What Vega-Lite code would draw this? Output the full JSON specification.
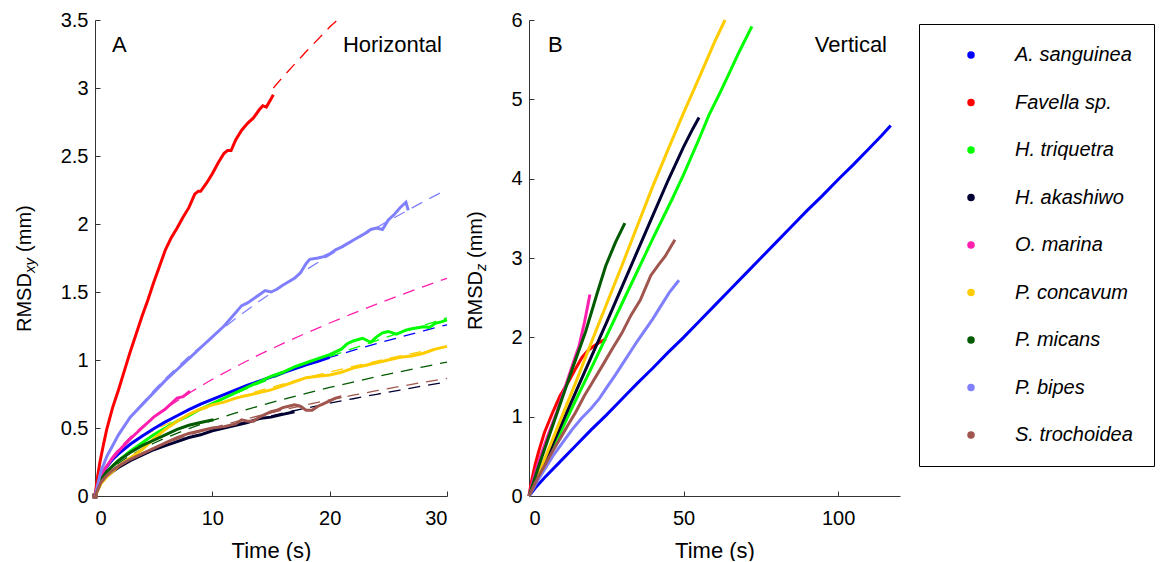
{
  "$schema": "https://vega.github.io/schema/vega-lite/v6.json",
  "background": "white",
  "padding": {"left": 14, "top": 10, "right": 0, "bottom": 0},
  "config": {
    "font": "Liberation Sans",
    "view": {"stroke": null},
    "axis": {
      "grid": false,
      "domainColor": "#333333",
      "domainWidth": 1,
      "tickColor": "#333333",
      "tickSize": -5,
      "labelFont": "Liberation Sans",
      "labelFontSize": 20,
      "labelColor": "black",
      "titleFont": "Liberation Sans",
      "titleFontSize": 22,
      "titleFontWeight": "normal",
      "titleColor": "black"
    },
    "legend": {
      "labelFont": "Liberation Sans",
      "labelFontSize": 20,
      "labelFontStyle": "italic",
      "labelColor": "black"
    }
  },
  "datasets": {
    "origin": [
      {"sp": "A. sanguinea", "t": 0, "r": 0}, {"sp": "Favella sp.", "t": 0, "r": 0}, {"sp": "H. triquetra", "t": 0, "r": 0}, {"sp": "H. akashiwo", "t": 0, "r": 0}, {"sp": "O. marina", "t": 0, "r": 0}, {"sp": "P. concavum", "t": 0, "r": 0}, {"sp": "P. micans", "t": 0, "r": 0}, {"sp": "P. bipes", "t": 0, "r": 0}, {"sp": "S. trochoidea", "t": 0, "r": 0}
    ],
    "h": [
      {"sp": "A. sanguinea", "t": 0, "r": 0}, {"sp": "A. sanguinea", "t": 0.5, "r": 0.15}, {"sp": "A. sanguinea", "t": 1, "r": 0.215}, {"sp": "A. sanguinea", "t": 1.5, "r": 0.27}, {"sp": "A. sanguinea", "t": 2, "r": 0.31}, {"sp": "A. sanguinea", "t": 3, "r": 0.38}, {"sp": "A. sanguinea", "t": 4, "r": 0.44}, {"sp": "A. sanguinea", "t": 5, "r": 0.495}, {"sp": "A. sanguinea", "t": 6, "r": 0.545}, {"sp": "A. sanguinea", "t": 7, "r": 0.59}, {"sp": "A. sanguinea", "t": 8, "r": 0.635}, {"sp": "A. sanguinea", "t": 9, "r": 0.675}, {"sp": "A. sanguinea", "t": 10, "r": 0.71}, {"sp": "A. sanguinea", "t": 11, "r": 0.745}, {"sp": "A. sanguinea", "t": 12, "r": 0.78}, {"sp": "A. sanguinea", "t": 13, "r": 0.815}, {"sp": "A. sanguinea", "t": 14, "r": 0.845}, {"sp": "A. sanguinea", "t": 15, "r": 0.875}, {"sp": "A. sanguinea", "t": 16, "r": 0.905}, {"sp": "A. sanguinea", "t": 17, "r": 0.935}, {"sp": "A. sanguinea", "t": 18, "r": 0.965}, {"sp": "A. sanguinea", "t": 19, "r": 0.99}, {"sp": "A. sanguinea", "t": 20, "r": 1.02},
      {"sp": "Favella sp.", "t": 0, "r": 0}, {"sp": "Favella sp.", "t": 0.2, "r": 0.13}, {"sp": "Favella sp.", "t": 0.4, "r": 0.24}, {"sp": "Favella sp.", "t": 0.7, "r": 0.37}, {"sp": "Favella sp.", "t": 1, "r": 0.49}, {"sp": "Favella sp.", "t": 1.5, "r": 0.65}, {"sp": "Favella sp.", "t": 2, "r": 0.78}, {"sp": "Favella sp.", "t": 2.5, "r": 0.92}, {"sp": "Favella sp.", "t": 3, "r": 1.06}, {"sp": "Favella sp.", "t": 3.5, "r": 1.19}, {"sp": "Favella sp.", "t": 4, "r": 1.32}, {"sp": "Favella sp.", "t": 4.5, "r": 1.44}, {"sp": "Favella sp.", "t": 5, "r": 1.57}, {"sp": "Favella sp.", "t": 5.5, "r": 1.69}, {"sp": "Favella sp.", "t": 6, "r": 1.81}, {"sp": "Favella sp.", "t": 6.5, "r": 1.9}, {"sp": "Favella sp.", "t": 7, "r": 1.97}, {"sp": "Favella sp.", "t": 7.5, "r": 2.05}, {"sp": "Favella sp.", "t": 8, "r": 2.12}, {"sp": "Favella sp.", "t": 8.5, "r": 2.22}, {"sp": "Favella sp.", "t": 8.8, "r": 2.24}, {"sp": "Favella sp.", "t": 9, "r": 2.24}, {"sp": "Favella sp.", "t": 9.5, "r": 2.3}, {"sp": "Favella sp.", "t": 10, "r": 2.37}, {"sp": "Favella sp.", "t": 10.5, "r": 2.45}, {"sp": "Favella sp.", "t": 11, "r": 2.52}, {"sp": "Favella sp.", "t": 11.3, "r": 2.54}, {"sp": "Favella sp.", "t": 11.6, "r": 2.54}, {"sp": "Favella sp.", "t": 12, "r": 2.62}, {"sp": "Favella sp.", "t": 12.5, "r": 2.69}, {"sp": "Favella sp.", "t": 13, "r": 2.74}, {"sp": "Favella sp.", "t": 13.5, "r": 2.78}, {"sp": "Favella sp.", "t": 14, "r": 2.84}, {"sp": "Favella sp.", "t": 14.3, "r": 2.87}, {"sp": "Favella sp.", "t": 14.6, "r": 2.86}, {"sp": "Favella sp.", "t": 15, "r": 2.92}, {"sp": "Favella sp.", "t": 15.2, "r": 2.95},
      {"sp": "H. triquetra", "t": 0, "r": 0}, {"sp": "H. triquetra", "t": 0.5, "r": 0.11}, {"sp": "H. triquetra", "t": 1, "r": 0.17}, {"sp": "H. triquetra", "t": 1.5, "r": 0.22}, {"sp": "H. triquetra", "t": 2, "r": 0.26}, {"sp": "H. triquetra", "t": 3, "r": 0.33}, {"sp": "H. triquetra", "t": 4, "r": 0.39}, {"sp": "H. triquetra", "t": 5, "r": 0.45}, {"sp": "H. triquetra", "t": 6, "r": 0.5}, {"sp": "H. triquetra", "t": 7, "r": 0.55}, {"sp": "H. triquetra", "t": 8, "r": 0.59}, {"sp": "H. triquetra", "t": 9, "r": 0.64}, {"sp": "H. triquetra", "t": 10, "r": 0.68}, {"sp": "H. triquetra", "t": 11, "r": 0.72}, {"sp": "H. triquetra", "t": 12, "r": 0.76}, {"sp": "H. triquetra", "t": 13, "r": 0.8}, {"sp": "H. triquetra", "t": 14, "r": 0.84}, {"sp": "H. triquetra", "t": 15, "r": 0.88}, {"sp": "H. triquetra", "t": 16, "r": 0.91}, {"sp": "H. triquetra", "t": 17, "r": 0.95}, {"sp": "H. triquetra", "t": 18, "r": 0.98}, {"sp": "H. triquetra", "t": 19, "r": 1.01}, {"sp": "H. triquetra", "t": 20, "r": 1.04}, {"sp": "H. triquetra", "t": 21, "r": 1.08}, {"sp": "H. triquetra", "t": 21.5, "r": 1.12}, {"sp": "H. triquetra", "t": 22, "r": 1.14}, {"sp": "H. triquetra", "t": 22.8, "r": 1.16}, {"sp": "H. triquetra", "t": 23.5, "r": 1.13}, {"sp": "H. triquetra", "t": 24, "r": 1.17}, {"sp": "H. triquetra", "t": 24.5, "r": 1.2}, {"sp": "H. triquetra", "t": 25, "r": 1.21}, {"sp": "H. triquetra", "t": 25.7, "r": 1.19}, {"sp": "H. triquetra", "t": 26.5, "r": 1.22}, {"sp": "H. triquetra", "t": 27, "r": 1.23}, {"sp": "H. triquetra", "t": 28, "r": 1.245}, {"sp": "H. triquetra", "t": 28.5, "r": 1.24}, {"sp": "H. triquetra", "t": 29, "r": 1.27}, {"sp": "H. triquetra", "t": 29.5, "r": 1.28}, {"sp": "H. triquetra", "t": 30, "r": 1.295},
      {"sp": "H. akashiwo", "t": 0, "r": 0}, {"sp": "H. akashiwo", "t": 0.5, "r": 0.1}, {"sp": "H. akashiwo", "t": 1, "r": 0.145}, {"sp": "H. akashiwo", "t": 1.5, "r": 0.18}, {"sp": "H. akashiwo", "t": 2, "r": 0.21}, {"sp": "H. akashiwo", "t": 3, "r": 0.26}, {"sp": "H. akashiwo", "t": 4, "r": 0.3}, {"sp": "H. akashiwo", "t": 5, "r": 0.34}, {"sp": "H. akashiwo", "t": 6, "r": 0.37}, {"sp": "H. akashiwo", "t": 7, "r": 0.4}, {"sp": "H. akashiwo", "t": 8, "r": 0.43}, {"sp": "H. akashiwo", "t": 9, "r": 0.45}, {"sp": "H. akashiwo", "t": 10, "r": 0.48}, {"sp": "H. akashiwo", "t": 11, "r": 0.5}, {"sp": "H. akashiwo", "t": 12, "r": 0.52}, {"sp": "H. akashiwo", "t": 13, "r": 0.54}, {"sp": "H. akashiwo", "t": 14, "r": 0.57}, {"sp": "H. akashiwo", "t": 15, "r": 0.58}, {"sp": "H. akashiwo", "t": 16, "r": 0.6}, {"sp": "H. akashiwo", "t": 17, "r": 0.62},
      {"sp": "O. marina", "t": 0, "r": 0}, {"sp": "O. marina", "t": 0.5, "r": 0.15}, {"sp": "O. marina", "t": 1, "r": 0.22}, {"sp": "O. marina", "t": 1.5, "r": 0.28}, {"sp": "O. marina", "t": 2, "r": 0.33}, {"sp": "O. marina", "t": 3, "r": 0.42}, {"sp": "O. marina", "t": 4, "r": 0.5}, {"sp": "O. marina", "t": 5, "r": 0.58}, {"sp": "O. marina", "t": 5.5, "r": 0.61}, {"sp": "O. marina", "t": 6, "r": 0.64}, {"sp": "O. marina", "t": 6.5, "r": 0.68}, {"sp": "O. marina", "t": 7, "r": 0.72}, {"sp": "O. marina", "t": 7.5, "r": 0.73}, {"sp": "O. marina", "t": 8.1, "r": 0.77},
      {"sp": "P. concavum", "t": 0, "r": 0}, {"sp": "P. concavum", "t": 0.5, "r": 0.09}, {"sp": "P. concavum", "t": 1, "r": 0.14}, {"sp": "P. concavum", "t": 1.5, "r": 0.18}, {"sp": "P. concavum", "t": 2, "r": 0.22}, {"sp": "P. concavum", "t": 3, "r": 0.28}, {"sp": "P. concavum", "t": 4, "r": 0.34}, {"sp": "P. concavum", "t": 5, "r": 0.42}, {"sp": "P. concavum", "t": 6, "r": 0.49}, {"sp": "P. concavum", "t": 7, "r": 0.55}, {"sp": "P. concavum", "t": 8, "r": 0.6}, {"sp": "P. concavum", "t": 9, "r": 0.64}, {"sp": "P. concavum", "t": 10, "r": 0.67}, {"sp": "P. concavum", "t": 11, "r": 0.69}, {"sp": "P. concavum", "t": 12, "r": 0.72}, {"sp": "P. concavum", "t": 13, "r": 0.74}, {"sp": "P. concavum", "t": 14, "r": 0.76}, {"sp": "P. concavum", "t": 15, "r": 0.78}, {"sp": "P. concavum", "t": 16, "r": 0.81}, {"sp": "P. concavum", "t": 17, "r": 0.84}, {"sp": "P. concavum", "t": 18, "r": 0.87}, {"sp": "P. concavum", "t": 19, "r": 0.88}, {"sp": "P. concavum", "t": 20, "r": 0.89}, {"sp": "P. concavum", "t": 21, "r": 0.91}, {"sp": "P. concavum", "t": 22, "r": 0.94}, {"sp": "P. concavum", "t": 23, "r": 0.96}, {"sp": "P. concavum", "t": 24, "r": 0.98}, {"sp": "P. concavum", "t": 25, "r": 1.0}, {"sp": "P. concavum", "t": 26, "r": 1.02}, {"sp": "P. concavum", "t": 27, "r": 1.03}, {"sp": "P. concavum", "t": 28, "r": 1.05}, {"sp": "P. concavum", "t": 29, "r": 1.08}, {"sp": "P. concavum", "t": 30, "r": 1.1},
      {"sp": "P. micans", "t": 0, "r": 0}, {"sp": "P. micans", "t": 0.5, "r": 0.12}, {"sp": "P. micans", "t": 1, "r": 0.18}, {"sp": "P. micans", "t": 1.5, "r": 0.22}, {"sp": "P. micans", "t": 2, "r": 0.26}, {"sp": "P. micans", "t": 3, "r": 0.32}, {"sp": "P. micans", "t": 4, "r": 0.37}, {"sp": "P. micans", "t": 5, "r": 0.41}, {"sp": "P. micans", "t": 6, "r": 0.45}, {"sp": "P. micans", "t": 7, "r": 0.49}, {"sp": "P. micans", "t": 8, "r": 0.52}, {"sp": "P. micans", "t": 9, "r": 0.54}, {"sp": "P. micans", "t": 9.5, "r": 0.55}, {"sp": "P. micans", "t": 10.1, "r": 0.56},
      {"sp": "P. bipes", "t": 0, "r": 0}, {"sp": "P. bipes", "t": 0.5, "r": 0.18}, {"sp": "P. bipes", "t": 1, "r": 0.29}, {"sp": "P. bipes", "t": 1.5, "r": 0.37}, {"sp": "P. bipes", "t": 2, "r": 0.45}, {"sp": "P. bipes", "t": 3, "r": 0.58}, {"sp": "P. bipes", "t": 4, "r": 0.67}, {"sp": "P. bipes", "t": 5, "r": 0.76}, {"sp": "P. bipes", "t": 6, "r": 0.85}, {"sp": "P. bipes", "t": 7, "r": 0.93}, {"sp": "P. bipes", "t": 8, "r": 1.01}, {"sp": "P. bipes", "t": 9, "r": 1.09}, {"sp": "P. bipes", "t": 10, "r": 1.17}, {"sp": "P. bipes", "t": 11, "r": 1.25}, {"sp": "P. bipes", "t": 12, "r": 1.35}, {"sp": "P. bipes", "t": 12.5, "r": 1.4}, {"sp": "P. bipes", "t": 13, "r": 1.42}, {"sp": "P. bipes", "t": 14, "r": 1.48}, {"sp": "P. bipes", "t": 14.5, "r": 1.51}, {"sp": "P. bipes", "t": 15, "r": 1.5}, {"sp": "P. bipes", "t": 15.5, "r": 1.52}, {"sp": "P. bipes", "t": 16, "r": 1.55}, {"sp": "P. bipes", "t": 17, "r": 1.6}, {"sp": "P. bipes", "t": 17.5, "r": 1.64}, {"sp": "P. bipes", "t": 18, "r": 1.71}, {"sp": "P. bipes", "t": 18.3, "r": 1.74}, {"sp": "P. bipes", "t": 19, "r": 1.75}, {"sp": "P. bipes", "t": 19.5, "r": 1.76}, {"sp": "P. bipes", "t": 20, "r": 1.78}, {"sp": "P. bipes", "t": 20.5, "r": 1.81}, {"sp": "P. bipes", "t": 21, "r": 1.83}, {"sp": "P. bipes", "t": 22, "r": 1.88}, {"sp": "P. bipes", "t": 23, "r": 1.93}, {"sp": "P. bipes", "t": 23.5, "r": 1.96}, {"sp": "P. bipes", "t": 24, "r": 1.97}, {"sp": "P. bipes", "t": 24.5, "r": 1.96}, {"sp": "P. bipes", "t": 25, "r": 2.03}, {"sp": "P. bipes", "t": 25.5, "r": 2.07}, {"sp": "P. bipes", "t": 26, "r": 2.12}, {"sp": "P. bipes", "t": 26.5, "r": 2.16}, {"sp": "P. bipes", "t": 26.7, "r": 2.1},
      {"sp": "S. trochoidea", "t": 0, "r": 0}, {"sp": "S. trochoidea", "t": 0.5, "r": 0.1}, {"sp": "S. trochoidea", "t": 1, "r": 0.15}, {"sp": "S. trochoidea", "t": 1.5, "r": 0.19}, {"sp": "S. trochoidea", "t": 2, "r": 0.22}, {"sp": "S. trochoidea", "t": 3, "r": 0.27}, {"sp": "S. trochoidea", "t": 4, "r": 0.31}, {"sp": "S. trochoidea", "t": 5, "r": 0.35}, {"sp": "S. trochoidea", "t": 6, "r": 0.39}, {"sp": "S. trochoidea", "t": 7, "r": 0.43}, {"sp": "S. trochoidea", "t": 8, "r": 0.46}, {"sp": "S. trochoidea", "t": 9, "r": 0.48}, {"sp": "S. trochoidea", "t": 10, "r": 0.5}, {"sp": "S. trochoidea", "t": 11, "r": 0.51}, {"sp": "S. trochoidea", "t": 12, "r": 0.53}, {"sp": "S. trochoidea", "t": 12.5, "r": 0.56}, {"sp": "S. trochoidea", "t": 13, "r": 0.55}, {"sp": "S. trochoidea", "t": 13.5, "r": 0.55}, {"sp": "S. trochoidea", "t": 14, "r": 0.58}, {"sp": "S. trochoidea", "t": 14.5, "r": 0.6}, {"sp": "S. trochoidea", "t": 15, "r": 0.62}, {"sp": "S. trochoidea", "t": 15.5, "r": 0.63}, {"sp": "S. trochoidea", "t": 16, "r": 0.65}, {"sp": "S. trochoidea", "t": 16.5, "r": 0.66}, {"sp": "S. trochoidea", "t": 17, "r": 0.67}, {"sp": "S. trochoidea", "t": 17.5, "r": 0.66}, {"sp": "S. trochoidea", "t": 18, "r": 0.63}, {"sp": "S. trochoidea", "t": 18.5, "r": 0.63}, {"sp": "S. trochoidea", "t": 19, "r": 0.66}, {"sp": "S. trochoidea", "t": 19.5, "r": 0.68}, {"sp": "S. trochoidea", "t": 20, "r": 0.7}, {"sp": "S. trochoidea", "t": 20.5, "r": 0.72}, {"sp": "S. trochoidea", "t": 21, "r": 0.73}
    ],
    "hfit": [
      {"sp": "A. sanguinea", "t": 0, "r": 0}, {"sp": "A. sanguinea", "t": 0.25, "r": 0.104}, {"sp": "A. sanguinea", "t": 0.5, "r": 0.15}, {"sp": "A. sanguinea", "t": 1, "r": 0.215}, {"sp": "A. sanguinea", "t": 1.5, "r": 0.265}, {"sp": "A. sanguinea", "t": 2, "r": 0.308}, {"sp": "A. sanguinea", "t": 3, "r": 0.38}, {"sp": "A. sanguinea", "t": 4, "r": 0.441}, {"sp": "A. sanguinea", "t": 5, "r": 0.496}, {"sp": "A. sanguinea", "t": 6, "r": 0.545}, {"sp": "A. sanguinea", "t": 8, "r": 0.633}, {"sp": "A. sanguinea", "t": 10, "r": 0.711}, {"sp": "A. sanguinea", "t": 12, "r": 0.781}, {"sp": "A. sanguinea", "t": 14, "r": 0.846}, {"sp": "A. sanguinea", "t": 16, "r": 0.907}, {"sp": "A. sanguinea", "t": 18, "r": 0.965}, {"sp": "A. sanguinea", "t": 20, "r": 1.019}, {"sp": "A. sanguinea", "t": 22, "r": 1.071}, {"sp": "A. sanguinea", "t": 24, "r": 1.121}, {"sp": "A. sanguinea", "t": 26, "r": 1.168}, {"sp": "A. sanguinea", "t": 28, "r": 1.215}, {"sp": "A. sanguinea", "t": 30, "r": 1.259},
      {"sp": "Favella sp.", "t": 15.2, "r": 3.0}, {"sp": "Favella sp.", "t": 16, "r": 3.08}, {"sp": "Favella sp.", "t": 18, "r": 3.268}, {"sp": "Favella sp.", "t": 20, "r": 3.448}, {"sp": "Favella sp.", "t": 20.65, "r": 3.5},
      {"sp": "H. triquetra", "t": 0, "r": 0}, {"sp": "H. triquetra", "t": 0.25, "r": 0.074}, {"sp": "H. triquetra", "t": 0.5, "r": 0.112}, {"sp": "H. triquetra", "t": 1, "r": 0.17}, {"sp": "H. triquetra", "t": 1.5, "r": 0.217}, {"sp": "H. triquetra", "t": 2, "r": 0.258}, {"sp": "H. triquetra", "t": 3, "r": 0.329}, {"sp": "H. triquetra", "t": 4, "r": 0.39}, {"sp": "H. triquetra", "t": 5, "r": 0.447}, {"sp": "H. triquetra", "t": 6, "r": 0.498}, {"sp": "H. triquetra", "t": 8, "r": 0.592}, {"sp": "H. triquetra", "t": 10, "r": 0.677}, {"sp": "H. triquetra", "t": 12, "r": 0.755}, {"sp": "H. triquetra", "t": 14, "r": 0.828}, {"sp": "H. triquetra", "t": 16, "r": 0.897}, {"sp": "H. triquetra", "t": 18, "r": 0.963}, {"sp": "H. triquetra", "t": 20, "r": 1.026}, {"sp": "H. triquetra", "t": 22, "r": 1.085}, {"sp": "H. triquetra", "t": 24, "r": 1.143}, {"sp": "H. triquetra", "t": 26, "r": 1.2}, {"sp": "H. triquetra", "t": 28, "r": 1.255}, {"sp": "H. triquetra", "t": 30, "r": 1.309},
      {"sp": "H. akashiwo", "t": 0, "r": 0}, {"sp": "H. akashiwo", "t": 0.25, "r": 0.073}, {"sp": "H. akashiwo", "t": 0.5, "r": 0.104}, {"sp": "H. akashiwo", "t": 1, "r": 0.148}, {"sp": "H. akashiwo", "t": 1.5, "r": 0.182}, {"sp": "H. akashiwo", "t": 2, "r": 0.211}, {"sp": "H. akashiwo", "t": 3, "r": 0.259}, {"sp": "H. akashiwo", "t": 4, "r": 0.3}, {"sp": "H. akashiwo", "t": 5, "r": 0.336}, {"sp": "H. akashiwo", "t": 6, "r": 0.369}, {"sp": "H. akashiwo", "t": 8, "r": 0.427}, {"sp": "H. akashiwo", "t": 10, "r": 0.479}, {"sp": "H. akashiwo", "t": 12, "r": 0.526}, {"sp": "H. akashiwo", "t": 14, "r": 0.568}, {"sp": "H. akashiwo", "t": 16, "r": 0.609}, {"sp": "H. akashiwo", "t": 18, "r": 0.646}, {"sp": "H. akashiwo", "t": 20, "r": 0.682}, {"sp": "H. akashiwo", "t": 22, "r": 0.715}, {"sp": "H. akashiwo", "t": 24, "r": 0.748}, {"sp": "H. akashiwo", "t": 26, "r": 0.779}, {"sp": "H. akashiwo", "t": 28, "r": 0.81}, {"sp": "H. akashiwo", "t": 30, "r": 0.838},
      {"sp": "O. marina", "t": 0, "r": 0}, {"sp": "O. marina", "t": 0.25, "r": 0.106}, {"sp": "O. marina", "t": 0.5, "r": 0.157}, {"sp": "O. marina", "t": 1, "r": 0.232}, {"sp": "O. marina", "t": 1.5, "r": 0.292}, {"sp": "O. marina", "t": 2, "r": 0.344}, {"sp": "O. marina", "t": 3, "r": 0.433}, {"sp": "O. marina", "t": 4, "r": 0.51}, {"sp": "O. marina", "t": 5, "r": 0.579}, {"sp": "O. marina", "t": 6, "r": 0.642}, {"sp": "O. marina", "t": 8, "r": 0.756}, {"sp": "O. marina", "t": 10, "r": 0.858}, {"sp": "O. marina", "t": 12, "r": 0.951}, {"sp": "O. marina", "t": 14, "r": 1.039}, {"sp": "O. marina", "t": 16, "r": 1.121}, {"sp": "O. marina", "t": 18, "r": 1.198}, {"sp": "O. marina", "t": 20, "r": 1.272}, {"sp": "O. marina", "t": 22, "r": 1.343}, {"sp": "O. marina", "t": 24, "r": 1.411}, {"sp": "O. marina", "t": 26, "r": 1.476}, {"sp": "O. marina", "t": 28, "r": 1.54}, {"sp": "O. marina", "t": 30, "r": 1.601},
      {"sp": "P. concavum", "t": 0, "r": 0}, {"sp": "P. concavum", "t": 0.25, "r": 0.121}, {"sp": "P. concavum", "t": 0.5, "r": 0.167}, {"sp": "P. concavum", "t": 1, "r": 0.23}, {"sp": "P. concavum", "t": 1.5, "r": 0.277}, {"sp": "P. concavum", "t": 2, "r": 0.316}, {"sp": "P. concavum", "t": 3, "r": 0.381}, {"sp": "P. concavum", "t": 4, "r": 0.435}, {"sp": "P. concavum", "t": 5, "r": 0.482}, {"sp": "P. concavum", "t": 6, "r": 0.524}, {"sp": "P. concavum", "t": 8, "r": 0.599}, {"sp": "P. concavum", "t": 10, "r": 0.663}, {"sp": "P. concavum", "t": 12, "r": 0.722}, {"sp": "P. concavum", "t": 14, "r": 0.774}, {"sp": "P. concavum", "t": 16, "r": 0.823}, {"sp": "P. concavum", "t": 18, "r": 0.869}, {"sp": "P. concavum", "t": 20, "r": 0.912}, {"sp": "P. concavum", "t": 22, "r": 0.953}, {"sp": "P. concavum", "t": 24, "r": 0.992}, {"sp": "P. concavum", "t": 26, "r": 1.03}, {"sp": "P. concavum", "t": 28, "r": 1.065}, {"sp": "P. concavum", "t": 30, "r": 1.1},
      {"sp": "P. micans", "t": 0, "r": 0}, {"sp": "P. micans", "t": 0.25, "r": 0.082}, {"sp": "P. micans", "t": 0.5, "r": 0.117}, {"sp": "P. micans", "t": 1, "r": 0.168}, {"sp": "P. micans", "t": 1.5, "r": 0.207}, {"sp": "P. micans", "t": 2, "r": 0.241}, {"sp": "P. micans", "t": 3, "r": 0.297}, {"sp": "P. micans", "t": 4, "r": 0.345}, {"sp": "P. micans", "t": 5, "r": 0.388}, {"sp": "P. micans", "t": 6, "r": 0.427}, {"sp": "P. micans", "t": 8, "r": 0.496}, {"sp": "P. micans", "t": 10, "r": 0.556}, {"sp": "P. micans", "t": 12, "r": 0.611}, {"sp": "P. micans", "t": 14, "r": 0.662}, {"sp": "P. micans", "t": 16, "r": 0.71}, {"sp": "P. micans", "t": 18, "r": 0.755}, {"sp": "P. micans", "t": 20, "r": 0.798}, {"sp": "P. micans", "t": 22, "r": 0.838}, {"sp": "P. micans", "t": 24, "r": 0.877}, {"sp": "P. micans", "t": 26, "r": 0.914}, {"sp": "P. micans", "t": 28, "r": 0.95}, {"sp": "P. micans", "t": 30, "r": 0.985},
      {"sp": "P. bipes", "t": 0, "r": 0}, {"sp": "P. bipes", "t": 0.25, "r": 0.13}, {"sp": "P. bipes", "t": 0.5, "r": 0.197}, {"sp": "P. bipes", "t": 1, "r": 0.297}, {"sp": "P. bipes", "t": 1.5, "r": 0.378}, {"sp": "P. bipes", "t": 2, "r": 0.449}, {"sp": "P. bipes", "t": 3, "r": 0.572}, {"sp": "P. bipes", "t": 4, "r": 0.679}, {"sp": "P. bipes", "t": 5, "r": 0.775}, {"sp": "P. bipes", "t": 6, "r": 0.864}, {"sp": "P. bipes", "t": 8, "r": 1.026}, {"sp": "P. bipes", "t": 10, "r": 1.171}, {"sp": "P. bipes", "t": 12, "r": 1.306}, {"sp": "P. bipes", "t": 14, "r": 1.432}, {"sp": "P. bipes", "t": 16, "r": 1.55}, {"sp": "P. bipes", "t": 18, "r": 1.663}, {"sp": "P. bipes", "t": 20, "r": 1.771}, {"sp": "P. bipes", "t": 22, "r": 1.874}, {"sp": "P. bipes", "t": 24, "r": 1.974}, {"sp": "P. bipes", "t": 26, "r": 2.07}, {"sp": "P. bipes", "t": 28, "r": 2.164}, {"sp": "P. bipes", "t": 30, "r": 2.255},
      {"sp": "S. trochoidea", "t": 0, "r": 0}, {"sp": "S. trochoidea", "t": 0.25, "r": 0.079}, {"sp": "S. trochoidea", "t": 0.5, "r": 0.112}, {"sp": "S. trochoidea", "t": 1, "r": 0.158}, {"sp": "S. trochoidea", "t": 1.5, "r": 0.194}, {"sp": "S. trochoidea", "t": 2, "r": 0.223}, {"sp": "S. trochoidea", "t": 3, "r": 0.274}, {"sp": "S. trochoidea", "t": 4, "r": 0.316}, {"sp": "S. trochoidea", "t": 5, "r": 0.353}, {"sp": "S. trochoidea", "t": 6, "r": 0.387}, {"sp": "S. trochoidea", "t": 8, "r": 0.447}, {"sp": "S. trochoidea", "t": 10, "r": 0.5}, {"sp": "S. trochoidea", "t": 12, "r": 0.547}, {"sp": "S. trochoidea", "t": 14, "r": 0.591}, {"sp": "S. trochoidea", "t": 16, "r": 0.632}, {"sp": "S. trochoidea", "t": 18, "r": 0.67}, {"sp": "S. trochoidea", "t": 20, "r": 0.707}, {"sp": "S. trochoidea", "t": 22, "r": 0.741}, {"sp": "S. trochoidea", "t": 24, "r": 0.774}, {"sp": "S. trochoidea", "t": 26, "r": 0.806}, {"sp": "S. trochoidea", "t": 28, "r": 0.836}, {"sp": "S. trochoidea", "t": 30, "r": 0.865}
    ],
    "v": [
      {"sp": "A. sanguinea", "t": 0, "r": 0}, {"sp": "A. sanguinea", "t": 2, "r": 0.1}, {"sp": "A. sanguinea", "t": 5, "r": 0.23}, {"sp": "A. sanguinea", "t": 10, "r": 0.43}, {"sp": "A. sanguinea", "t": 15, "r": 0.63}, {"sp": "A. sanguinea", "t": 20, "r": 0.83}, {"sp": "A. sanguinea", "t": 25, "r": 1.02}, {"sp": "A. sanguinea", "t": 30, "r": 1.22}, {"sp": "A. sanguinea", "t": 35, "r": 1.42}, {"sp": "A. sanguinea", "t": 40, "r": 1.61}, {"sp": "A. sanguinea", "t": 45, "r": 1.81}, {"sp": "A. sanguinea", "t": 50, "r": 2.0}, {"sp": "A. sanguinea", "t": 55, "r": 2.2}, {"sp": "A. sanguinea", "t": 60, "r": 2.4}, {"sp": "A. sanguinea", "t": 65, "r": 2.6}, {"sp": "A. sanguinea", "t": 70, "r": 2.8}, {"sp": "A. sanguinea", "t": 75, "r": 3.0}, {"sp": "A. sanguinea", "t": 80, "r": 3.2}, {"sp": "A. sanguinea", "t": 85, "r": 3.4}, {"sp": "A. sanguinea", "t": 90, "r": 3.6}, {"sp": "A. sanguinea", "t": 95, "r": 3.79}, {"sp": "A. sanguinea", "t": 100, "r": 3.99}, {"sp": "A. sanguinea", "t": 105, "r": 4.18}, {"sp": "A. sanguinea", "t": 110, "r": 4.38}, {"sp": "A. sanguinea", "t": 114, "r": 4.54}, {"sp": "A. sanguinea", "t": 117, "r": 4.67},
      {"sp": "Favella sp.", "t": 0, "r": 0}, {"sp": "Favella sp.", "t": 0.5, "r": 0.12}, {"sp": "Favella sp.", "t": 1, "r": 0.22}, {"sp": "Favella sp.", "t": 2, "r": 0.4}, {"sp": "Favella sp.", "t": 3.2, "r": 0.57}, {"sp": "Favella sp.", "t": 5, "r": 0.8}, {"sp": "Favella sp.", "t": 7.5, "r": 1.04}, {"sp": "Favella sp.", "t": 10, "r": 1.26}, {"sp": "Favella sp.", "t": 12.9, "r": 1.45}, {"sp": "Favella sp.", "t": 15, "r": 1.6}, {"sp": "Favella sp.", "t": 17.2, "r": 1.75}, {"sp": "Favella sp.", "t": 19, "r": 1.83}, {"sp": "Favella sp.", "t": 21, "r": 1.89}, {"sp": "Favella sp.", "t": 23, "r": 1.94}, {"sp": "Favella sp.", "t": 24.9, "r": 1.98},
      {"sp": "H. triquetra", "t": 0, "r": 0}, {"sp": "H. triquetra", "t": 5, "r": 0.38}, {"sp": "H. triquetra", "t": 10, "r": 0.79}, {"sp": "H. triquetra", "t": 15, "r": 1.2}, {"sp": "H. triquetra", "t": 20, "r": 1.6}, {"sp": "H. triquetra", "t": 25, "r": 2.01}, {"sp": "H. triquetra", "t": 30, "r": 2.42}, {"sp": "H. triquetra", "t": 35, "r": 2.83}, {"sp": "H. triquetra", "t": 40, "r": 3.24}, {"sp": "H. triquetra", "t": 46.4, "r": 3.75}, {"sp": "H. triquetra", "t": 50, "r": 4.05}, {"sp": "H. triquetra", "t": 55, "r": 4.5}, {"sp": "H. triquetra", "t": 58.2, "r": 4.8}, {"sp": "H. triquetra", "t": 62, "r": 5.1}, {"sp": "H. triquetra", "t": 65, "r": 5.35}, {"sp": "H. triquetra", "t": 68, "r": 5.6}, {"sp": "H. triquetra", "t": 72.1, "r": 5.92},
      {"sp": "H. akashiwo", "t": 0, "r": 0}, {"sp": "H. akashiwo", "t": 5, "r": 0.42}, {"sp": "H. akashiwo", "t": 10, "r": 0.86}, {"sp": "H. akashiwo", "t": 15, "r": 1.3}, {"sp": "H. akashiwo", "t": 20, "r": 1.74}, {"sp": "H. akashiwo", "t": 25, "r": 2.18}, {"sp": "H. akashiwo", "t": 30, "r": 2.63}, {"sp": "H. akashiwo", "t": 35, "r": 3.08}, {"sp": "H. akashiwo", "t": 40, "r": 3.53}, {"sp": "H. akashiwo", "t": 45, "r": 3.98}, {"sp": "H. akashiwo", "t": 50, "r": 4.4}, {"sp": "H. akashiwo", "t": 53, "r": 4.63}, {"sp": "H. akashiwo", "t": 55, "r": 4.77},
      {"sp": "O. marina", "t": 0, "r": 0}, {"sp": "O. marina", "t": 1, "r": 0.16}, {"sp": "O. marina", "t": 3, "r": 0.42}, {"sp": "O. marina", "t": 6, "r": 0.75}, {"sp": "O. marina", "t": 9, "r": 1.06}, {"sp": "O. marina", "t": 10.8, "r": 1.27}, {"sp": "O. marina", "t": 12, "r": 1.41}, {"sp": "O. marina", "t": 15, "r": 1.76}, {"sp": "O. marina", "t": 16.2, "r": 1.89}, {"sp": "O. marina", "t": 17, "r": 2.03}, {"sp": "O. marina", "t": 18, "r": 2.2}, {"sp": "O. marina", "t": 19.7, "r": 2.54},
      {"sp": "P. concavum", "t": 0, "r": 0}, {"sp": "P. concavum", "t": 5, "r": 0.46}, {"sp": "P. concavum", "t": 10, "r": 0.94}, {"sp": "P. concavum", "t": 15, "r": 1.42}, {"sp": "P. concavum", "t": 20, "r": 1.92}, {"sp": "P. concavum", "t": 25, "r": 2.41}, {"sp": "P. concavum", "t": 30, "r": 2.9}, {"sp": "P. concavum", "t": 35, "r": 3.4}, {"sp": "P. concavum", "t": 40, "r": 3.9}, {"sp": "P. concavum", "t": 45, "r": 4.37}, {"sp": "P. concavum", "t": 50, "r": 4.83}, {"sp": "P. concavum", "t": 55, "r": 5.27}, {"sp": "P. concavum", "t": 60, "r": 5.72}, {"sp": "P. concavum", "t": 63.4, "r": 6.0},
      {"sp": "P. micans", "t": 0, "r": 0}, {"sp": "P. micans", "t": 3, "r": 0.36}, {"sp": "P. micans", "t": 6, "r": 0.7}, {"sp": "P. micans", "t": 10, "r": 1.15}, {"sp": "P. micans", "t": 14, "r": 1.6}, {"sp": "P. micans", "t": 18.3, "r": 2.07}, {"sp": "P. micans", "t": 22, "r": 2.55}, {"sp": "P. micans", "t": 24.8, "r": 2.9}, {"sp": "P. micans", "t": 28, "r": 3.2}, {"sp": "P. micans", "t": 31, "r": 3.44},
      {"sp": "P. bipes", "t": 0, "r": 0}, {"sp": "P. bipes", "t": 3, "r": 0.21}, {"sp": "P. bipes", "t": 5, "r": 0.33}, {"sp": "P. bipes", "t": 8, "r": 0.52}, {"sp": "P. bipes", "t": 10.8, "r": 0.67}, {"sp": "P. bipes", "t": 14, "r": 0.84}, {"sp": "P. bipes", "t": 17, "r": 0.98}, {"sp": "P. bipes", "t": 20, "r": 1.1}, {"sp": "P. bipes", "t": 22.6, "r": 1.22}, {"sp": "P. bipes", "t": 25, "r": 1.36}, {"sp": "P. bipes", "t": 28, "r": 1.53}, {"sp": "P. bipes", "t": 30, "r": 1.65}, {"sp": "P. bipes", "t": 35, "r": 1.95}, {"sp": "P. bipes", "t": 40, "r": 2.23}, {"sp": "P. bipes", "t": 45.3, "r": 2.56}, {"sp": "P. bipes", "t": 48.5, "r": 2.72},
      {"sp": "S. trochoidea", "t": 0, "r": 0}, {"sp": "S. trochoidea", "t": 3, "r": 0.24}, {"sp": "S. trochoidea", "t": 5, "r": 0.38}, {"sp": "S. trochoidea", "t": 8, "r": 0.59}, {"sp": "S. trochoidea", "t": 10, "r": 0.72}, {"sp": "S. trochoidea", "t": 13, "r": 0.92}, {"sp": "S. trochoidea", "t": 15, "r": 1.05}, {"sp": "S. trochoidea", "t": 18, "r": 1.27}, {"sp": "S. trochoidea", "t": 20, "r": 1.4}, {"sp": "S. trochoidea", "t": 23.7, "r": 1.64}, {"sp": "S. trochoidea", "t": 27, "r": 1.86}, {"sp": "S. trochoidea", "t": 30, "r": 2.05}, {"sp": "S. trochoidea", "t": 33, "r": 2.28}, {"sp": "S. trochoidea", "t": 36, "r": 2.47}, {"sp": "S. trochoidea", "t": 39.4, "r": 2.78}, {"sp": "S. trochoidea", "t": 42, "r": 2.92}, {"sp": "S. trochoidea", "t": 44, "r": 3.02}, {"sp": "S. trochoidea", "t": 47.2, "r": 3.23}
    ]
  },
  "bounds": "flush",
  "spacing": 82,
  "hconcat": [
    {
      "width": 352,
      "height": 476,
      "layer": [
        {
          "data": {"name": "origin"},
          "mark": {"type": "point", "filled": true, "size": 36, "opacity": 1, "strokeWidth": 0},
          "encoding": {
            "x": {"field": "t", "type": "quantitative", "scale": {"domain": [0, 30], "nice": false, "zero": false}, "axis": {"values": [0, 10, 20, 30], "title": "Time (s)", "titleY": 61, "titleBaseline": "alphabetic", "labelPadding": 17}},
            "y": {"field": "r", "type": "quantitative", "scale": {"domain": [0, 3.5], "nice": false}, "axis": {"values": [0, 0.5, 1, 1.5, 2, 2.5, 3, 3.5], "format": "~g", "title": null, "labelPadding": 12}},
            "color": {"field": "sp", "type": "nominal", "scale": {"domain": ["A. sanguinea", "Favella sp.", "H. triquetra", "H. akashiwo", "O. marina", "P. concavum", "P. micans", "P. bipes", "S. trochoidea"], "range": ["#0000ff", "#ff0000", "#00ff00", "#000033", "#ff1fae", "#ffcc00", "#005a00", "#8080ff", "#a0564e"]}, "legend": {"title": null, "orient": "none", "legendX": 824, "legendY": 4, "symbolType": "circle", "symbolSize": 36, "padding": 21, "rowPadding": 27.5, "symbolOffset": 21, "labelOffset": 34, "strokeColor": "black", "fillColor": "white"}}
          }
        },
        {
          "data": {"name": "hfit"},
          "mark": {"type": "line", "strokeWidth": 1.3, "strokeDash": [12, 8]},
          "encoding": {
            "x": {"field": "t", "type": "quantitative"},
            "y": {"field": "r", "type": "quantitative"},
            "color": {"field": "sp", "type": "nominal"}
          }
        },
        {
          "data": {"name": "h"},
          "mark": {"type": "line", "strokeWidth": 3},
          "encoding": {
            "x": {"field": "t", "type": "quantitative"},
            "y": {"field": "r", "type": "quantitative"},
            "color": {"field": "sp", "type": "nominal"}
          }
        },
        {
          "data": {"values": [{}]},
          "mark": {"type": "text", "text": "A", "fontSize": 22, "align": "left", "baseline": "middle"},
          "encoding": {"x": {"datum": 1.45}, "y": {"datum": 3.316}}
        },
        {
          "data": {"values": [{}]},
          "mark": {"type": "text", "text": "Horizontal", "fontSize": 22, "align": "right", "baseline": "middle"},
          "encoding": {"x": {"datum": 29.57}, "y": {"datum": 3.316}}
        },
        {
          "data": {"values": [{}]},
          "mark": {"type": "text", "text": "RMSD", "fontSize": 20, "angle": 270, "align": "left", "baseline": "alphabetic"},
          "encoding": {"x": {"datum": -5.455}, "y": {"datum": 1.206}}
        },
        {
          "data": {"values": [{}]},
          "mark": {"type": "text", "text": "xy", "fontSize": 15, "fontStyle": "italic", "angle": 270, "align": "left", "baseline": "alphabetic"},
          "encoding": {"x": {"datum": -5.1}, "y": {"datum": 1.64}}
        },
        {
          "data": {"values": [{}]},
          "mark": {"type": "text", "text": "(mm)", "fontSize": 20, "angle": 270, "align": "left", "baseline": "alphabetic"},
          "encoding": {"x": {"datum": -5.455}, "y": {"datum": 1.795}}
        }
      ]
    },
    {
      "width": 371,
      "height": 476,
      "layer": [
        {
          "data": {"name": "v"},
          "mark": {"type": "line", "strokeWidth": 3},
          "encoding": {
            "x": {"field": "t", "type": "quantitative", "scale": {"domain": [0, 120], "nice": false}, "axis": {"values": [0, 50, 100], "title": "Time (s)", "titleY": 61, "titleBaseline": "alphabetic", "labelPadding": 17}},
            "y": {"field": "r", "type": "quantitative", "scale": {"domain": [0, 6], "nice": false}, "axis": {"values": [0, 1, 2, 3, 4, 5, 6], "format": "~g", "title": null, "labelPadding": 12}},
            "color": {"field": "sp", "type": "nominal"}
          }
        },
        {
          "data": {"values": [{}]},
          "mark": {"type": "text", "text": "B", "fontSize": 22, "align": "left", "baseline": "middle"},
          "encoding": {"x": {"datum": 6.15}, "y": {"datum": 5.685}}
        },
        {
          "data": {"values": [{}]},
          "mark": {"type": "text", "text": "Vertical", "fontSize": 22, "align": "right", "baseline": "middle"},
          "encoding": {"x": {"datum": 115.8}, "y": {"datum": 5.685}}
        },
        {
          "data": {"values": [{}]},
          "mark": {"type": "text", "text": "RMSD", "fontSize": 20, "angle": 270, "align": "left", "baseline": "alphabetic"},
          "encoding": {"x": {"datum": -15.2}, "y": {"datum": 2.093}}
        },
        {
          "data": {"values": [{}]},
          "mark": {"type": "text", "text": "z", "fontSize": 15, "fontStyle": "italic", "angle": 270, "align": "left", "baseline": "alphabetic"},
          "encoding": {"x": {"datum": -13.9}, "y": {"datum": 2.836}}
        },
        {
          "data": {"values": [{}]},
          "mark": {"type": "text", "text": "(mm)", "fontSize": 20, "angle": 270, "align": "left", "baseline": "alphabetic"},
          "encoding": {"x": {"datum": -15.2}, "y": {"datum": 3.0}}
        }
      ]
    }
  ]
}
